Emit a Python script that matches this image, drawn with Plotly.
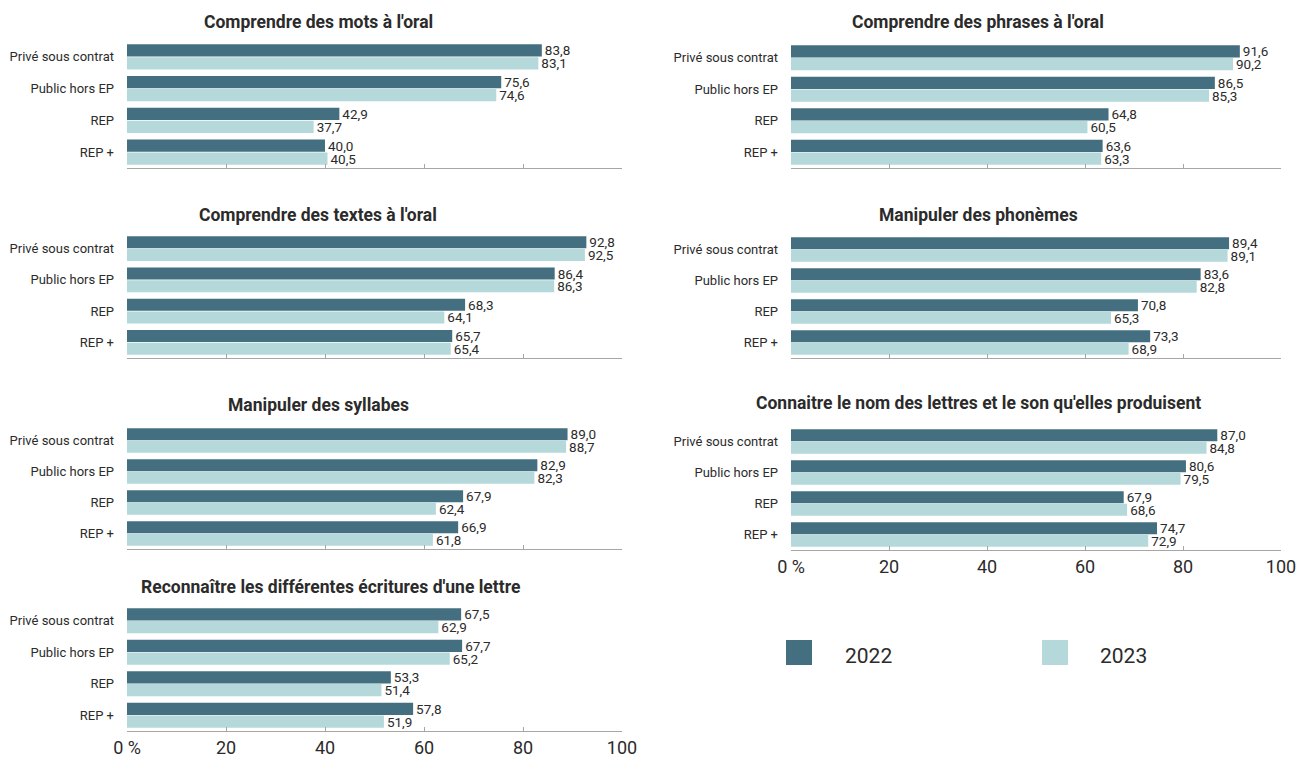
import plotly.graph_objects as go

categories = ["Privé sous contrat", "Public hors EP", "REP", "REP +"]
years = ["2022", "2023"]

titles = [
    "Comprendre des mots à l'oral",
    "Comprendre des textes à l'oral",
    "Manipuler des syllabes",
    "Reconnaître les différentes écritures d'une lettre",
    "Comprendre des phrases à l'oral",
    "Manipuler des phonèmes",
    "Connaitre le nom des lettres et le son qu'elles produisent",
]

mots_2022 = [83.8, 75.6, 42.9, 40.0]
mots_2023 = [83.1, 74.6, 37.7, 40.5]
textes_2022 = [92.8, 86.4, 68.3, 65.7]
textes_2023 = [92.5, 86.3, 64.1, 65.4]
syllabes_2022 = [89.0, 82.9, 67.9, 66.9]
syllabes_2023 = [88.7, 82.3, 62.4, 61.8]
ecritures_2022 = [67.5, 67.7, 53.3, 57.8]
ecritures_2023 = [62.9, 65.2, 51.4, 51.9]
phrases_2022 = [91.6, 86.5, 64.8, 63.6]
phrases_2023 = [90.2, 85.3, 60.5, 63.3]
phonemes_2022 = [89.4, 83.6, 70.8, 73.3]
phonemes_2023 = [89.1, 82.8, 65.3, 68.9]
lettres_2022 = [87.0, 80.6, 67.9, 74.7]
lettres_2023 = [84.8, 79.5, 68.6, 72.9]

tick_vals = [0, 20, 40, 60, 80, 100]
tick_text = ["0 %", "20", "40", "60", "80", "100"]

panels = [
    (mots_2022, mots_2023),
    (textes_2022, textes_2023),
    (syllabes_2022, syllabes_2023),
    (ecritures_2022, ecritures_2023),
    (phrases_2022, phrases_2023),
    (phonemes_2022, phonemes_2023),
    (lettres_2022, lettres_2023),
]

W, H = 1298, 760
FONT = "Roboto, sans-serif"
DARK = "#436f80"
LIGHT = "#b5d8da"
TXT = "#2b2b2b"

def px_x(x):
    return x / W

def px_y(y):
    return (H - y) / H

left_x = (127, 622)
right_x = (791, 1281)
geo = [
    (left_x, 41, 168, 22, 318, False),
    (left_x, 233, 358, 215, 318, False),
    (left_x, 425, 549, 405, 318, False),
    (left_x, 605, 731, 587, 330, True),
    (right_x, 42, 168, 22, 978, False),
    (right_x, 234, 358, 215, 978, False),
    (right_x, 426, 550, 403, 978, True),
]

fig = go.Figure()
layout = {}
annotations = []

def fmt(v):
    return f"{v:.1f}".replace(".", ",")

for i, ((v22, v23), (xr, ytop, ybot, ty, tx, bottom)) in enumerate(zip(panels, geo)):
    n = "" if i == 0 else str(i + 1)
    for yr, vals, col in ((years[0], v22, DARK), (years[1], v23, LIGHT)):
        fig.add_trace(go.Bar(
            x=vals, y=categories, orientation="h", name=yr,
            marker=dict(color=col, line=dict(width=0)),
            text=[fmt(v) for v in vals], textposition="outside",
            constraintext="none",
            textfont=dict(family=FONT, size=13.5, color=TXT),
            cliponaxis=False, showlegend=False,
            xaxis="x" + n, yaxis="y" + n, hoverinfo="skip",
        ))
    layout["xaxis" + n] = dict(
        domain=[px_x(xr[0]), px_x(xr[1])], range=[0, 100], anchor="y" + n,
        showgrid=False, zeroline=False, showline=True, linecolor="#a6a6a6", linewidth=1,
        ticks="inside", ticklen=4, tickcolor="#a6a6a6",
        tickvals=tick_vals, ticktext=tick_text, showticklabels=bottom,
        tickfont=dict(family=FONT, size=18, color=TXT), fixedrange=True,
        automargin=False,
    )
    layout["yaxis" + n] = dict(
        domain=[px_y(ybot), px_y(ytop)], anchor="x" + n,
        categoryorder="array", categoryarray=categories, autorange="reversed",
        showgrid=False, zeroline=False, showline=False, ticks="",
        ticklabelstandoff=12,
        tickfont=dict(family=FONT, size=13, color=TXT), fixedrange=True,
        automargin=False,
    )
    annotations.append(dict(
        text="<b>" + titles[i] + "</b>", x=px_x(tx), y=px_y(ty), xref="paper", yref="paper",
        xanchor="center", yanchor="middle", showarrow=False,
        font=dict(family=FONT, size=17.5, color=TXT),
    ))

shapes = []
for yr, col, bx, tx in ((years[0], DARK, 786, 868), (years[1], LIGHT, 1042, 1123)):
    shapes.append(dict(type="rect", xref="paper", yref="paper",
                       x0=px_x(bx), x1=px_x(bx + 26), y0=px_y(665), y1=px_y(640),
                       fillcolor=col, line=dict(width=0)))
    annotations.append(dict(text=yr, x=px_x(tx), y=px_y(656), xref="paper", yref="paper",
                            xanchor="center", yanchor="middle", showarrow=False,
                            font=dict(family=FONT, size=21, color=TXT)))

fig.update_layout(
    **layout,
    width=W, height=H, margin=dict(l=0, r=0, t=0, b=0, autoexpand=False),
    barmode="group", bargap=0.19, bargroupgap=0.04,
    plot_bgcolor="white", paper_bgcolor="white",
    annotations=annotations, shapes=shapes, showlegend=False,
    font=dict(family=FONT, color=TXT),
)

fig.write_html(
    "out.html",
    config={"displayModeBar": False},
    post_script="document.body.style.margin='0px';document.body.style.overflow='hidden';",
)
